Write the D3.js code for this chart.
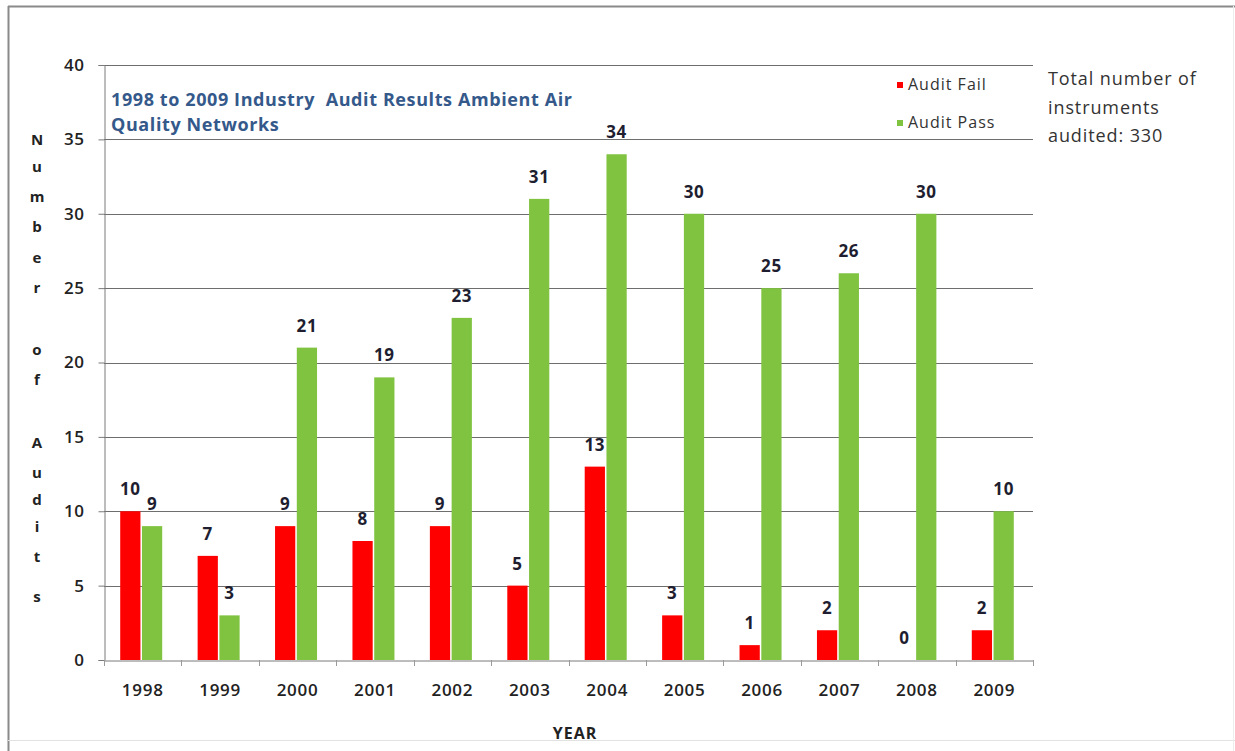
<!DOCTYPE html>
<html><head><meta charset="utf-8">
<script src="https://cdn.jsdelivr.net/npm/d3@7"></script>
<style>body{margin:0;background:#fff}svg{display:block}text{white-space:pre}</style>
</head><body>
<svg id="c" width="1235" height="751"></svg>
<script>
const years = ["1998","1999","2000","2001","2002","2003","2004","2005","2006","2007","2008","2009"];
const auditFail = [10,7,9,8,9,5,13,3,1,2,0,2];
const auditPass = [9,3,21,19,23,31,34,30,25,26,30,10];
const seriesNames = ["Audit Fail","Audit Pass"];
const seriesColors = ["#ff0000","#80c341"];
const yTicks = [0,5,10,15,20,25,30,35,40];
const titleLines = ["1998 to 2009 Industry  Audit Results Ambient Air","Quality Networks"];
const noteLines = ["Total number of","instruments","audited: 330"];
const yLabelLetters = ["N","u","m","b","e","r","","o","f","","A","u","d","i","t","s"];

const font = "'Open Sans', sans-serif";
const svg = d3.select("#c");
const L=104, R=1033, T=65, B=660;

// outer frame
svg.append("line").attr("x1",8).attr("x2",1235).attr("y1",6.5).attr("y2",6.5).attr("stroke","#8a8a8a").attr("stroke-width",2);
svg.append("line").attr("x1",8.5).attr("x2",8.5).attr("y1",6).attr("y2",751).attr("stroke","#8a8a8a").attr("stroke-width",2);
svg.append("line").attr("x1",8).attr("x2",1235).attr("y1",740.5).attr("y2",740.5).attr("stroke","#e2e2e2");
svg.append("line").attr("x1",1233.5).attr("x2",1233.5).attr("y1",6).attr("y2",751).attr("stroke","#eeeeee");

const y = d3.scaleLinear().domain([0,40]).range([B,T]);
const x0 = d3.scaleBand().domain(years).range([L,R]).padding(0);
const groupW = 42;
const x1 = d3.scaleBand().domain(seriesNames).range([0,groupW]).paddingInner(0.07);
const color = d3.scaleOrdinal().domain(seriesNames).range(seriesColors);

// gridlines
svg.append("g").selectAll("line").data(yTicks.filter(d=>d>0)).join("line")
  .attr("x1",L).attr("x2",R).attr("y1",d=>Math.round(y(d))+0.5).attr("y2",d=>Math.round(y(d))+0.5)
  .attr("stroke","#6e6e6e").attr("stroke-width",1);

// y axis
const yAxis = svg.append("g").attr("transform",`translate(${L+0.5},0)`)
  .call(d3.axisLeft(y).tickValues(yTicks).tickSize(6).tickPadding(14));
yAxis.select(".domain").attr("stroke","#7a7a7a");
yAxis.selectAll(".tick line").attr("stroke","#7a7a7a");
yAxis.selectAll("text").attr("font-family",font).attr("font-size",17).attr("font-weight",600)
  .attr("letter-spacing",0.5).attr("fill","#222");

// x axis
const xAxis = svg.append("g").attr("transform",`translate(0,${B+0.5})`)
  .call(d3.axisBottom(x0).tickSize(0).tickPadding(23));
xAxis.select(".domain").attr("stroke","#7a7a7a");
xAxis.selectAll("text").attr("font-family",font).attr("font-size",17).attr("font-weight",600)
  .attr("letter-spacing",0.7).attr("fill","#222");
svg.append("g").selectAll("line").data(years.concat(["end"])).join("line")
  .attr("x1",(d,i)=>Math.round(L+i*x0.step())+0.5).attr("x2",(d,i)=>Math.round(L+i*x0.step())+0.5)
  .attr("y1",B).attr("y2",B+6).attr("stroke","#9a9a9a");

// bars
const data = years.map((yr,i)=>({year:yr, values:[{k:seriesNames[0],v:auditFail[i]},{k:seriesNames[1],v:auditPass[i]}]}));
const off = (x0.bandwidth()-groupW)/2 - 1.5;
const g = svg.append("g").selectAll("g").data(data).join("g")
  .attr("transform",d=>`translate(${x0(d.year)+off},0)`);
g.selectAll("rect").data(d=>d.values).join("rect")
  .attr("x",d=>x1(d.k)).attr("width",x1.bandwidth())
  .attr("y",d=>y(d.v)).attr("height",d=>B-y(d.v)).attr("fill",d=>color(d.k));
g.selectAll("text").data(d=>d.values).join("text")
  .attr("x",d=>x1(d.k)+x1.bandwidth()/2).attr("y",d=>y(d.v)-16)
  .attr("text-anchor","middle").attr("font-family",font).attr("font-size",17).attr("font-weight",700)
  .attr("letter-spacing",0.6).attr("fill","#1e1e30").text(d=>d.v);

// title
svg.append("text").attr("font-family",font).attr("font-size",18).attr("font-weight",700).attr("fill","#34598a")
  .attr("letter-spacing",0.6)
  .selectAll("tspan").data(titleLines).join("tspan").attr("x",111).attr("y",(d,i)=>106+i*25).text(d=>d);

// legend
const leg = svg.append("g").selectAll("g").data(seriesNames).join("g")
  .attr("transform",(d,i)=>`translate(897,${82+i*38})`);
leg.append("rect").attr("width",6).attr("height",6).attr("fill",d=>color(d));
leg.append("text").attr("x",11).attr("y",8).attr("font-family",font).attr("font-size",16)
  .attr("letter-spacing",1).attr("fill","#333").text(d=>d);

// note
svg.append("text").attr("font-family",font).attr("font-size",18).attr("fill","#333").attr("letter-spacing",0.9)
  .selectAll("tspan").data(noteLines).join("tspan").attr("x",1048).attr("y",(d,i)=>85+i*28.5).text(d=>d);

// y label stacked letters
const letterY = [140,167,197,227,258,288,null,350,380,null,443,473,500,527,557,597];
svg.append("g").selectAll("text").data(yLabelLetters.map((c,i)=>({c,y:letterY[i]})).filter(d=>d.c))
  .join("text").attr("x",37).attr("y",d=>d.y+5).attr("text-anchor","middle")
  .attr("font-family",font).attr("font-size",15).attr("font-weight",700).attr("fill","#222").text(d=>d.c);

// x title
svg.append("text").attr("x",575).attr("y",739).attr("text-anchor","middle").attr("font-family",font)
  .attr("font-size",16).attr("font-weight",700).attr("letter-spacing",1).attr("fill","#222").text("YEAR");
</script>
</body></html>
